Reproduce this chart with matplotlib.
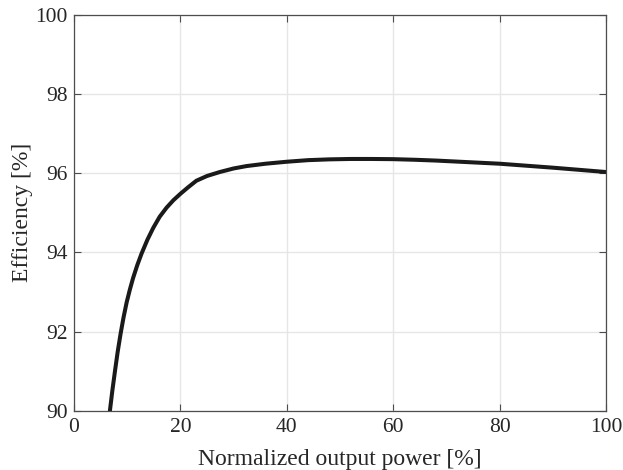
import numpy as np
import matplotlib
matplotlib.use("Agg")
from matplotlib import pyplot as plt

# curve
power = [6.75, 7.2, 7.7, 8.2, 8.75, 9.3, 9.9, 10.5, 11.1, 11.9, 12.7, 13.8,
         14.9, 16.1, 17.4, 18.7, 20.0, 21.5, 23.0, 25.0, 27.4, 30.0, 32.4,
         36.0, 40.0, 44.0, 48.0, 52.0, 56.0, 60.0, 64.0, 68.0, 74.0, 80.0,
         85.0, 90.0, 95.0, 100.0]
eff = [90.00, 90.50, 91.00, 91.48, 91.94, 92.35, 92.74, 93.06, 93.35, 93.68,
       93.97, 94.32, 94.62, 94.90, 95.13, 95.32, 95.48, 95.65, 95.81, 95.93,
       96.03, 96.12, 96.18, 96.24, 96.29, 96.33, 96.35, 96.36, 96.36, 96.355,
       96.34, 96.32, 96.28, 96.24, 96.19, 96.14, 96.085, 96.03]

xticks = [0, 20, 40, 60, 80, 100]
yticks = [90, 92, 94, 96, 98, 100]

plt.rcParams['font.family'] = ['Liberation Serif', 'DejaVu Serif']

fig = plt.figure(figsize=(6.23, 4.70), dpi=100)
ax = fig.add_axes([0.1188, 0.1262, 0.8539, 0.8421])

ax.plot(power, eff, '-', color='#1a1a1a', linewidth=2.9, solid_joinstyle='round')

ax.set_xlim(0, 100)
ax.set_ylim(90, 100)
ax.set_xticks(xticks)
ax.set_yticks(yticks)
ax.grid(True, color='#e6e6e6', linewidth=1.0)
ax.set_axisbelow(True)
ax.tick_params(direction='in', length=5, width=0.8, colors='#4d4d4d',
               labelcolor='#262626', labelsize=15.5, top=True, right=True)
ax.tick_params(axis='y', pad=4.5)
ax.tick_params(axis='x', pad=5)
for s in ax.spines.values():
    s.set_color('#4d4d4d')
    s.set_linewidth(0.9)

ax.set_xlabel('Normalized output power [%]', fontsize=17, color='#262626', labelpad=9)
ax.set_ylabel('Efficiency [%]', fontsize=17, color='#262626', labelpad=2)

plt.savefig('out.png', dpi=100)
